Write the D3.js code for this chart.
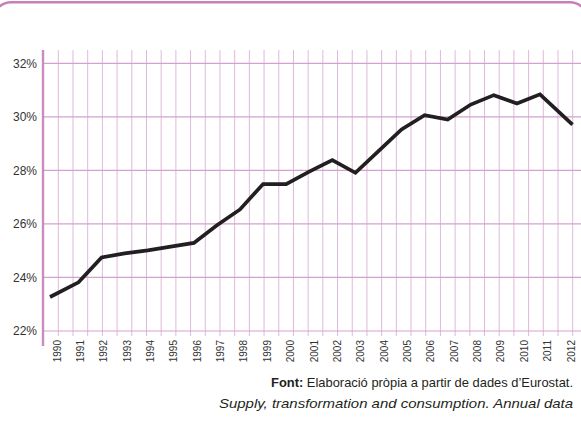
<!DOCTYPE html>
<html>
<head>
<meta charset="utf-8">
<script src="https://cdn.jsdelivr.net/npm/d3@7/dist/d3.min.js"></script>
<style>
  html, body { margin: 0; padding: 0; background: #ffffff; }
  svg { display: block; }
  text { font-family: "Liberation Sans", Arial, Helvetica, sans-serif; }
</style>
</head>
<body>
<svg id="chart" width="581" height="438"></svg>
<script>
// ---- data ----
const years = [1990, 1991, 1992, 1993, 1994, 1995, 1996, 1997, 1998, 1999, 2000,
               2001, 2002, 2003, 2004, 2005, 2006, 2007, 2008, 2009, 2010, 2011, 2012];
const shareValues = [23.27, 23.82, 24.75, 24.90, 25.01, 25.15, 25.29, 25.95, 26.54, 27.49, 27.49,
                     27.95, 28.38, 27.91, 28.72, 29.53, 30.06, 29.90, 30.46, 30.81, 30.50, 30.84, 29.71];
const yTickValues = [22, 24, 26, 28, 30, 32];
const sourceBold = "Font:";
const sourceText = " Elaboració pròpia a partir de dades d\u2019Eurostat.";
const sourceLine2 = "Supply, transformation and consumption. Annual data";

// ---- layout ----
const svg = d3.select("#chart");
const W = 581;
const plotTop = 63.3, plotBottom = 331;
const axisX = 43;

const y = d3.scaleLinear().domain([22, 32]).range([plotBottom, plotTop]);
const xLabel = d3.scalePoint().domain(years).range([57, 571]);
const xLine = d3.scaleLinear().domain([1990, 1991, 2011, 2012]).range([50, 78.5, 540, 572.5]);
const nGrid = 35;
const xGrid = d3.scaleLinear().domain([0, nGrid]).range([58.3, 572.7]);

// top rounded frame
svg.append("rect")
  .attr("x", -5).attr("y", 2.2)
  .attr("width", W + 10).attr("height", 900)
  .attr("rx", 16).attr("ry", 14)
  .attr("fill", "none")
  .attr("stroke", "#c77fba")
  .attr("stroke-width", 2.4);

// vertical grid lines
svg.append("g").selectAll("line")
  .data(d3.range(0, nGrid + 1))
  .join("line")
  .attr("x1", d => xGrid(d)).attr("x2", d => xGrid(d))
  .attr("y1", 50).attr("y2", 336)
  .attr("stroke", "#dfb9da")
  .attr("stroke-width", 1);

// horizontal grid lines
svg.append("g").selectAll("line")
  .data(yTickValues)
  .join("line")
  .attr("x1", axisX).attr("x2", W)
  .attr("y1", d => y(d)).attr("y2", d => y(d))
  .attr("stroke", "#d3a2cc")
  .attr("stroke-width", 1.2);

// left axis line
svg.append("line")
  .attr("x1", axisX).attr("x2", axisX)
  .attr("y1", 50).attr("y2", 346)
  .attr("stroke", "#c98bc1")
  .attr("stroke-width", 2.4);

// y tick labels
svg.append("g").selectAll("text")
  .data(yTickValues)
  .join("text")
  .attr("x", 37)
  .attr("y", d => y(d))
  .attr("dy", "0.36em")
  .attr("text-anchor", "end")
  .attr("font-size", "12px")
  .attr("fill", "#333333")
  .text(d => d + "%");

// x labels (rotated)
svg.append("g").selectAll("text")
  .data(years)
  .join("text")
  .attr("transform", d => `translate(${xLabel(d)},340) rotate(-90)`)
  .attr("dy", "0.35em")
  .attr("text-anchor", "end")
  .attr("font-size", "10px")
  .attr("fill", "#333333")
  .text(d => d);

// data line
const line = d3.line()
  .x((d, i) => xLine(years[i]))
  .y(d => y(d));

svg.append("path")
  .datum(shareValues)
  .attr("d", line)
  .attr("fill", "none")
  .attr("stroke", "#231f20")
  .attr("stroke-width", 3.7)
  .attr("stroke-linejoin", "miter");

// source
const src = svg.append("text")
  .attr("x", 573).attr("y", 387)
  .attr("text-anchor", "end")
  .attr("font-size", "13px")
  .attr("fill", "#231f20")
  .attr("textLength", 302)
  .attr("lengthAdjust", "spacingAndGlyphs");
src.append("tspan").attr("font-weight", "bold").text(sourceBold);
src.append("tspan").text(sourceText);

svg.append("text")
  .attr("x", 573).attr("y", 408)
  .attr("text-anchor", "end")
  .attr("font-size", "13px")
  .attr("font-style", "italic")
  .attr("fill", "#231f20")
  .attr("textLength", 354)
  .attr("lengthAdjust", "spacingAndGlyphs")
  .text(sourceLine2);
</script>
</body>
</html>
